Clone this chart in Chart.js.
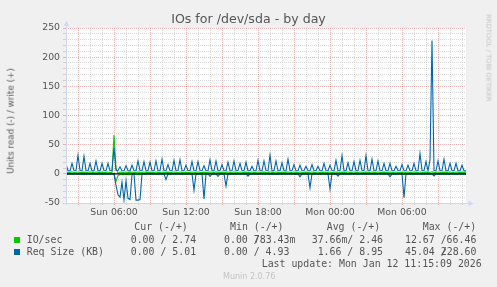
<!DOCTYPE html>
<html>
<head>
<meta charset="utf-8">
<script src="https://cdn.jsdelivr.net/npm/chart.js@4.4.1/dist/chart.umd.min.js"></script>
<style>
  html, body { margin:0; padding:0; background:#f0f0f0; }
  #wrap { position:relative; width:497px; height:287px; overflow:hidden; }
  canvas { position:absolute; left:0; top:0; }
  .t { position:absolute; white-space:pre; line-height:1; color:#555555; }
  .mono { font-family:"DejaVu Sans Mono", monospace; font-size:9.9px; }
  .sans { font-family:"DejaVu Sans", sans-serif; }
  .sq { position:absolute; width:6px; height:6px; }
</style>
</head>
<body>
<div id="wrap">
  <canvas id="c" width="497" height="287"></canvas>
  <div class="t sans" style="left:0;width:497px;text-align:center;top:12.5px;font-size:12.6px;">IOs for /dev/sda - by day</div>
  <div class="t sans" id="ytitle" style="font-size:8.8px;left:11px;top:121px;transform:translate(-50%,-50%) rotate(-90deg);">Units read (-) / write (+)</div>
  <div class="t sans" style="font-size:6.8px;color:#c4c4c4;left:488px;top:58px;transform:translate(-50%,-50%) rotate(90deg);">RRDTOOL / TOBI OETIKER</div>

  <div class="t mono" style="left:134.3px;top:222.3px;">Cur (-/+)</div>
  <div class="t mono" style="left:230px;top:222.3px;">Min (-/+)</div>
  <div class="t mono" style="left:326.7px;top:222.3px;">Avg (-/+)</div>
  <div class="t mono" style="left:422.7px;top:222.3px;">Max (-/+)</div>

  <div class="sq" style="left:14px;top:236.7px;background:#00cc00;"></div>
  <div class="t mono" style="left:26.7px;top:234.9px;">IO/sec</div>
  <div class="t mono" style="left:130.7px;top:234.9px;">0.00 / 2.74</div>
  <div class="t mono" style="left:224px;top:234.9px;">0.00 /</div>
  <div class="t mono" style="left:253.8px;top:234.9px;">783.43m</div>
  <div class="t mono" style="left:311.7px;top:234.9px;">37.66m/ 2.46</div>
  <div class="t mono" style="left:405px;top:234.9px;">12.67 /66.46</div>

  <div class="sq" style="left:14px;top:248.7px;background:#0066b3;"></div>
  <div class="t mono" style="left:26.7px;top:246.9px;">Req Size (KB)</div>
  <div class="t mono" style="left:130.7px;top:246.9px;">0.00 / 5.01</div>
  <div class="t mono" style="left:224px;top:246.9px;">0.00 / 4.93</div>
  <div class="t mono" style="left:311.7px;top:246.9px;"> 1.66 / 8.95</div>
  <div class="t mono" style="left:405px;top:246.9px;">45.04 /</div>
  <div class="t mono" style="left:440.8px;top:246.9px;">228.60</div>

  <div class="t mono" style="left:261.7px;top:258.6px;">Last update: Mon Jan 12 11:15:09 2026</div>
  <div class="t sans" style="left:223px;top:272.5px;font-size:8px;color:#c4c4c4;">Munin 2.0.76</div>
</div>
<script>
// ---- data (10-minute samples starting Sun 02:00) ----
const startHour = 2;          // Sun 02:00
const stepHours = 1 / 6;      // 10 minutes

// Req Size (KB), write (+)
const reqWrite = [
 17,5.4,5.2, 18,5.3,5.5, 32,5.6,5.2, 30,5.4,5.3, 18,5.2,5.4, 22,5.5,5.2, 18,5.3,5.4, 18,5.4,5.6,
 45,6.2,5.8, 12,5.4,5.3, 14,5.5,5.2, 15,5.3,5.4, 22,5.6,5.3, 21,5.2,5.5, 20,5.4,5.3, 22,5.3,5.2,
 25,5.5,5.4, 16,5.2,5.3, 23,5.4,5.6, 24,5.3,5.2, 15,5.5,5.4, 21,5.2,5.3, 21,5.6,5.4, 14,5.3,5.2,
 24,5.4,5.5, 22,5.2,5.3, 16,5.5,5.4, 20,5.3,5.2, 22,5.4,5.6, 18,5.2,5.3, 20,5.5,5.4, 13,5.3,5.2,
 23,5.4,5.5, 22,5.6,5.3, 32,5.2,5.4, 22,5.3,5.5, 19,5.4,5.2, 25,5.5,5.3, 16,5.2,5.4, 15,5.3,5.6,
 13,5.4,5.2, 16,5.5,5.3, 13,5.2,5.4, 18,5.3,5.5, 15,5.6,5.2, 23,5.4,5.3, 31,5.2,5.4, 19,5.5,5.3,
 21,5.3,5.2, 23,5.4,5.6, 31,5.2,5.3, 25,5.5,5.4, 22,5.3,5.2, 18,5.4,5.5, 18,5.2,5.3, 13,5.6,5.4,
 16,5.3,5.2, 15,5.4,5.5, 18,5.2,5.3, 35,5.5,5.4, 21,5.3,24, 228.6,5.6,5.2, 22,5.4,5.3, 25,5.2,5.5,
 18,5.3,5.4, 18,5.5,5.2, 15,5.0,5.01
];

// Req Size (KB), read (-)
const reqRead = [
 0,0,0,0,0,0,0,0,0,0,
 0,0,0,0,0,0,0,0,0,0,
 0,0,0,0,0,-20,-36,-40,-14,-45,
 -12,-42,-44,-2,0,-45.04,-45,-44,0,0,
 0,0,0,0,0,0,0,0,0,0,
 -10,0,0,0,0,0,0,0,0,0,
 0,0,0,0,-28,0,0,0,0,-43,
 0,0,-4.5,0,0,0,-4.5,0,0,0,
 -21,0,0,0,0,0,0,0,0,0,
 0,-4,0,0,0,0,0,0,0,0,
 0,0,0,0,0,0,0,0,0,0,
 0,0,0,0,0,0,0,-5,0,0,
 0,0,-24,0,0,0,0,0,0,0,
 0,0,-26,0,0,0,-4,0,0,0,
 0,0,0,0,0,0,0,0,0,0,
 0,0,0,0,0,0,0,0,0,0,
 0,0,-5,0,0,0,0,0,0,-41,
 0,0,0,0,0,0,0,0,0,0,
 0,0,0,0,-3.5,0,0,0,0,0,
 0,0,0,0,0,0,0,0,0,0,
 0
];

// IO/sec, write (+)
const ioWrite = [
 3.0,2.4,2.5,3.2,2.4,2.3,3.1,2.5,2.4,3.0,
 2.4,2.5,3.1,2.3,2.4,3.2,2.5,2.4,3.0,2.4,
 2.5,3.1,2.4,2.3,66.46,9.0,0.78,3.2,2.5,2.4,
 3.1,2.4,2.5,3.0,2.3,2.4,3.2,2.5,2.4,3.1,
 2.4,2.5,3.0,2.4,2.3,3.2,2.5,2.4,3.1,2.4,
 2.5,3.0,2.4,2.5,3.1,2.3,2.4,3.2,2.5,2.4,
 3.0,2.4,2.5,3.1,2.4,2.3,3.2,2.5,2.4,3.0,
 2.4,2.5,3.1,2.3,2.4,3.2,2.5,2.4,3.0,2.4,
 2.5,3.1,2.4,2.3,3.2,2.5,2.4,3.1,2.4,2.5,
 3.0,2.4,2.3,3.2,2.5,2.4,3.1,2.4,2.5,3.0,
 2.4,2.5,3.1,2.3,2.4,3.2,2.5,2.4,3.0,2.4,
 2.5,3.1,2.4,2.3,3.2,2.5,2.4,3.1,2.4,2.5,
 3.0,2.4,2.3,3.2,2.5,2.4,3.1,2.4,2.5,3.0,
 2.4,2.5,3.1,2.3,2.4,3.2,2.5,2.4,3.0,2.4,
 2.5,3.1,2.4,2.3,3.2,2.5,2.4,3.1,2.4,2.5,
 3.0,2.4,2.3,3.2,2.5,2.4,3.1,2.4,2.5,3.0,
 2.4,2.5,3.1,2.3,2.4,3.2,2.5,2.4,3.0,2.4,
 2.5,3.1,2.4,2.3,3.2,2.5,2.4,3.1,2.4,2.5,
 3.0,2.4,2.3,3.4,2.5,2.4,3.1,2.4,2.5,3.0,
 2.4,2.5,3.1,2.3,2.4,3.2,2.5,2.4,3.0,2.4,
 2.74
];

// IO/sec, read (-)
const ioRead = [
 0,0,0,0,0,0,0,0,0,0,
 0,0,0,0,0,0,0,0,0,0,
 0,0,0,0,0,-12.67,-3,-1.5,-0.8,-1.6,
 -0.6,-1.4,-1.5,-0.3,0,-1.6,-1.5,-1.4,0,0,
 0,0,0,0,0,0,0,0,0,0,
 0,0,0,0,0,0,0,0,0,0,
 0,0,0,0,-1,0,0,0,0,-1.4,
 0,0,0,0,0,0,0,0,0,0,
 -0.8,0,0,0,0,0,0,0,0,0,
 0,0,0,0,0,0,0,0,0,0,
 0,0,0,0,0,0,0,0,0,0,
 0,0,0,0,0,0,0,0,0,0,
 0,0,-0.9,0,0,0,0,0,0,0,
 0,0,-0.9,0,0,0,0,0,0,0,
 0,0,0,0,0,0,0,0,0,0,
 0,0,0,0,0,0,0,0,0,0,
 0,0,0,0,0,0,0,0,0,-1.3,
 0,0,0,0,0,0,0,0,0,0,
 0,0,0,0,0,0,0,0,0,0,
 0,0,0,0,0,0,0,0,0,0,
 0
];

const xTickHours  = [6, 12, 18, 24, 30];
const xTickLabels = ['Sun 06:00', 'Sun 12:00', 'Sun 18:00', 'Mon 00:00', 'Mon 06:00'];
const yTickValues = [-50, 0, 50, 100, 150, 200, 250];

// ---- build ----
const times = reqWrite.map((_, i) => startHour + i * stepHours);
const pts = arr => arr.map((v, i) => ({ x: times[i], y: v }));
const xMin = startHour, xMax = times[times.length - 1];

const GREEN = '#00cc00', BLUE = '#0066b3';
const AXIS = '#cfd6f8';
const MINOR = 'rgba(143,143,143,0.33)';
const MAJOR = 'rgba(222,79,79,0.42)';

const muninPlugin = {
  id: 'munin',
  beforeDraw(chart) {
    const { ctx, chartArea: a } = chart;
    ctx.save();
    ctx.fillStyle = '#ffffff';
    ctx.fillRect(a.left, a.top, a.right - a.left, a.bottom - a.top);
    ctx.restore();
  },
  afterDatasetsDraw(chart) {
    const { ctx, chartArea: a, scales } = chart;
    const y0 = scales.y.getPixelForValue(0);
    ctx.save();
    // zero line
    ctx.strokeStyle = '#000000';
    ctx.lineWidth = 1.4;
    ctx.beginPath();
    ctx.moveTo(a.left, y0);
    ctx.lineTo(a.right, y0);
    ctx.stroke();
    // axes
    const yb = scales.y.getPixelForValue(scales.y.min);
    const xl = scales.x.getPixelForValue(scales.x.min);
    ctx.strokeStyle = AXIS;
    ctx.fillStyle = AXIS;
    ctx.lineWidth = 1;
    ctx.beginPath();
    ctx.moveTo(xl - 2, Math.round(yb) + 0.5);
    ctx.lineTo(a.right + 3, Math.round(yb) + 0.5);
    ctx.moveTo(Math.round(xl) + 0.5, yb + 2);
    ctx.lineTo(Math.round(xl) + 0.5, a.top - 3);
    ctx.stroke();
    // arrows
    const by = Math.round(yb) + 0.5, lx = Math.round(xl) + 0.5;
    ctx.beginPath();
    ctx.moveTo(a.right + 7.5, by);
    ctx.lineTo(a.right + 2.5, by - 2.7);
    ctx.lineTo(a.right + 2.5, by + 2.7);
    ctx.closePath();
    ctx.fill();
    ctx.beginPath();
    ctx.moveTo(lx, a.top - 7);
    ctx.lineTo(lx - 2.7, a.top - 2);
    ctx.lineTo(lx + 2.7, a.top - 2);
    ctx.closePath();
    ctx.fill();
    ctx.restore();
  }
};

const tickFont = { family: 'DejaVu Sans', size: 9.3 };

new Chart(document.getElementById('c'), {
  type: 'line',
  data: {
    datasets: [
      { label: 'Req Size read',  data: pts(reqRead),  borderColor: BLUE,  order: 1 },
      { label: 'Req Size write', data: pts(reqWrite), borderColor: BLUE,  order: 2 },
      { label: 'IO/sec read',    data: pts(ioRead),   borderColor: GREEN, order: 3 },
      { label: 'IO/sec write',   data: pts(ioWrite),  borderColor: GREEN, order: 4 }
    ]
  },
  options: {
    responsive: false,
    animation: false,
    devicePixelRatio: 1,
    elements: {
      point: { radius: 0, hoverRadius: 0 },
      line: { borderWidth: 1.1, tension: 0, fill: false }
    },
    layout: { padding: { left: 0, top: 28, right: 31, bottom: 64 } },
    plugins: { legend: { display: false }, tooltip: { enabled: false }, title: { display: false } },
    scales: {
      x: {
        type: 'linear',
        min: xMin,
        max: xMax,
        afterBuildTicks(scale) {
          const t = [];
          for (let h = Math.ceil(xMin); h <= Math.floor(xMax); h++) t.push({ value: h });
          scale.ticks = t;
        },
        afterFit(scale) { scale.height = 20; },
        border: { display: false, dash: [1, 1] },
        grid: {
          color: c => (c.tick && c.tick.value % 3 === 0) ? MAJOR : MINOR,
          tickColor: c => (c.tick && c.tick.value % 3 === 0) ? MAJOR : MINOR,
          lineWidth: 1,
          tickLength: 2,
          tickBorderDash: []
        },
        ticks: {
          autoSkip: false,
          maxRotation: 0,
          minRotation: 0,
          padding: 2,
          color: '#555555',
          font: tickFont,
          callback: v => { const k = xTickHours.indexOf(v); return k >= 0 ? xTickLabels[k] : ''; }
        }
      },
      y: {
        min: -50,
        max: 250,
        afterFit(scale) { scale.width = 66; },
        border: { display: false, dash: [1, 1] },
        grid: {
          color: c => (c.tick && c.tick.value % 50 === 0) ? MAJOR : MINOR,
          tickColor: c => (c.tick && c.tick.value % 50 === 0) ? MAJOR : MINOR,
          lineWidth: 1,
          tickLength: 3,
          tickBorderDash: []
        },
        ticks: {
          stepSize: 10,
          autoSkip: false,
          padding: 3,
          color: '#555555',
          font: tickFont,
          callback: v => yTickValues.includes(v) ? String(v) : ''
        }
      }
    }
  },
  plugins: [muninPlugin]
});
</script>
</body>
</html>
